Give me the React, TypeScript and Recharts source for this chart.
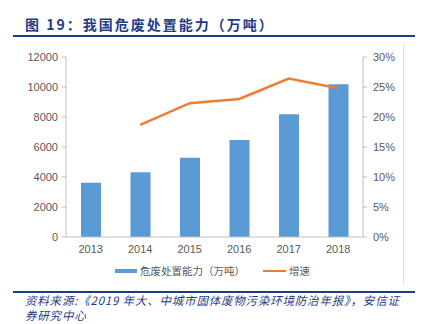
import React from 'react';
import { ComposedChart, Bar, Line, XAxis, YAxis } from 'recharts';

const years = ['2013', '2014', '2015', '2016', '2017', '2018'];
const capacity = [3620, 4310, 5290, 6470, 8180, 10180];
const growth = [null, 18.7, 22.3, 23.0, 26.4, 24.8];
const leftTicks = [0, 2000, 4000, 6000, 8000, 10000, 12000];
const rightTicks = [0, 5, 10, 15, 20, 25, 30];

const data = years.map((year, i) => ({ year, capacity: capacity[i], growth: growth[i] }));

const navy = '#1f3c88';
const tickStyle = { fontSize: 11, fill: '#595959', fontFamily: 'Liberation Sans, Arial, sans-serif' };

export default function App() {
  return (
    <div style={{ position: 'absolute', left: 0, top: 0, width: 421, height: 324, background: '#fff', overflow: 'hidden' }}>
      <div
        style={{
          position: 'absolute', left: 25, top: 15, fontSize: 14, fontWeight: 'bold', color: navy,
          fontFamily: '"Noto Sans CJK SC", sans-serif', letterSpacing: 2, lineHeight: '18px', whiteSpace: 'nowrap',
        }}
      >
        图 19：我国危废处置能力（万吨）
      </div>
      <div style={{ position: 'absolute', left: 13, top: 35, width: 402, height: 2, background: navy }} />
      <div style={{ position: 'absolute', left: 403, top: 45, width: 1, height: 240, background: '#e0e0e0' }} />

      <div style={{ position: 'absolute', left: 0, top: 0 }}>
        <ComposedChart width={421} height={290} data={data} margin={{ top: 57, right: 18, bottom: 28, left: 0 }}>
          <XAxis
            dataKey="year"
            tick={tickStyle}
            tickLine={false}
            tickSize={0}
            tickMargin={8}
            height={25}
            axisLine={{ stroke: '#bfbfbf' }}
          />
          <YAxis
            yAxisId="left"
            domain={[0, 12000]}
            ticks={leftTicks}
            tick={tickStyle}
            tickSize={4}
            tickMargin={4}
            width={66}
            axisLine={{ stroke: '#bfbfbf' }}
            tickLine={{ stroke: '#bfbfbf' }}
            interval={0}
          />
          <YAxis
            yAxisId="right"
            orientation="right"
            domain={[0, 30]}
            ticks={rightTicks}
            tickFormatter={(v: number) => `${v}%`}
            tick={{ ...tickStyle, textAnchor: 'start' }}
            tickSize={4}
            tickMargin={6}
            width={40}
            axisLine={{ stroke: '#bfbfbf' }}
            tickLine={{ stroke: '#bfbfbf' }}
            interval={0}
          />
          <Bar yAxisId="left" dataKey="capacity" fill="#5b9bd5" barSize={20} isAnimationActive={false} />
          <Line
            yAxisId="right"
            dataKey="growth"
            stroke="#ed7d31"
            strokeWidth={2.5}
            dot={false}
            type="linear"
            connectNulls={false}
            isAnimationActive={false}
          />
        </ComposedChart>
      </div>

      <div
        style={{
          position: 'absolute', left: 115, top: 264, display: 'flex', alignItems: 'center', fontSize: 10.5,
          color: '#595959', fontFamily: '"Noto Sans CJK SC", sans-serif', whiteSpace: 'nowrap', lineHeight: '14px',
        }}
      >
        <span style={{ display: 'inline-block', width: 22, height: 4, background: '#5b9bd5', marginRight: 3 }} />
        <span>危废处置能力（万吨）</span>
        <span style={{ display: 'inline-block', width: 23, height: 2.5, background: '#ed7d31', marginLeft: 18, marginRight: 3 }} />
        <span>增速</span>
      </div>

      <div style={{ position: 'absolute', left: 13, top: 291, width: 402, height: 1.5, background: navy }} />
      <div
        style={{
          position: 'absolute', left: 25, top: 293, fontSize: 11.5, fontStyle: 'italic', color: navy,
          fontFamily: '"Noto Sans CJK SC", sans-serif', lineHeight: '15px', whiteSpace: 'nowrap', letterSpacing: 0.8,
        }}
      >
        <div style={{ height: 15 }}>资料来源:《2019 年大、中城市固体废物污染环境防治年报》，安信证</div>
        <div style={{ height: 15 }}>券研究中心</div>
      </div>
    </div>
  );
}
